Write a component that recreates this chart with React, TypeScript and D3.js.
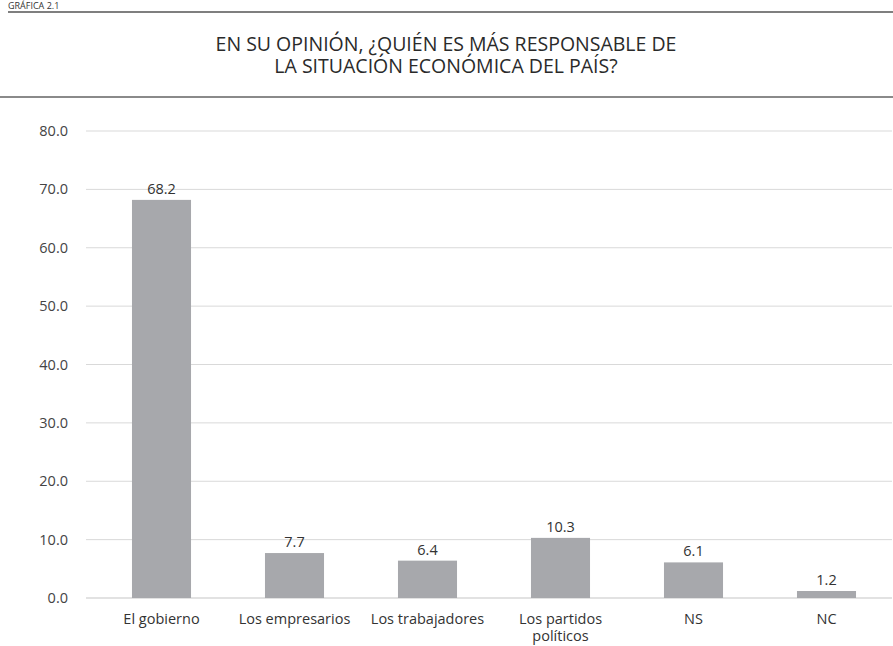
import * as React from 'react';
import * as d3 from 'd3';

// chart data
const categories = ['El gobierno', 'Los empresarios', 'Los trabajadores', 'Los partidos políticos', 'NS', 'NC'];
const values = [68.2, 7.7, 6.4, 10.3, 6.1, 1.2];
const yTicks = [0, 10, 20, 30, 40, 50, 60, 70, 80];
const titleLines = ['EN SU OPINIÓN, ¿QUIÉN ES MÁS RESPONSABLE DE', 'LA SITUACIÓN ECONÓMICA DEL PAÍS?'];
// long labels are wrapped by hand like in the original
const labelLines: { [k: string]: string[] } = {
  'Los partidos políticos': ['Los partidos', 'políticos'],
};

const width = 893;
const height = 646;
const font = '"Open Sans", Lato, sans-serif';
const barColor = '#a7a8ac';

const App = () => {
  // scales, hardcoded ranges to fit the picture
  const x = d3.scaleBand<string>()
    .domain(categories)
    .range([95, 893])
    .paddingInner(0.556)
    .paddingOuter(0.278);
  const y = d3.scaleLinear()
    .domain([0, 80])
    .range([598, 131]);

  const gridLeft = 86;
  const gridRight = 892;
  const fs = 14.5;

  return (
    <svg
      width={width}
      height={height}
      style={{ position: 'absolute', left: 0, top: 0, background: '#fff' }}
      fontFamily={font}
    >
      {/* header */}
      <text x={8} y={9} fontSize={9} fill="#333">GRÁFICA 2.1</text>
      <line x1={8} x2={width} y1={12} y2={12} stroke="#555" strokeWidth={1.5} />

      {/* title */}
      {titleLines.map((t, i) => (
        <text
          key={t}
          x={446}
          y={51 + i * 22}
          textAnchor="middle"
          fontSize={19.5}
          fill="#2a2a2a"
        >
          {t}
        </text>
      ))}
      <line x1={0} x2={width} y1={97} y2={97} stroke="#8a8a8a" strokeWidth={2} />

      {/* gridlines + y tick labels */}
      {yTicks.map((t) => (
        <g key={t}>
          <line
            x1={gridLeft}
            x2={gridRight}
            y1={y(t)}
            y2={y(t)}
            stroke="#d9d9d9"
            strokeWidth={t === 0 ? 1.5 : 1}
          />
          <text
            x={68}
            y={y(t)}
            dy="0.35em"
            textAnchor="end"
            fontSize={fs}
            fill="#444"
          >
            {d3.format('.1f')(t)}
          </text>
        </g>
      ))}

      {/* bars */}
      {categories.map((c, i) => (
        <g key={c}>
          <rect
            x={x(c)}
            y={y(values[i])}
            width={x.bandwidth()}
            height={y(0) - y(values[i])}
            fill={barColor}
          />
          <text
            x={(x(c) as number) + x.bandwidth() / 2}
            y={y(values[i]) - 6}
            textAnchor="middle"
            fontSize={fs}
            fill="#333"
          >
            {d3.format('.1f')(values[i])}
          </text>
        </g>
      ))}

      {/* category labels */}
      {categories.map((c) => {
        const lines = labelLines[c] || [c];
        const cx = (x(c) as number) + x.bandwidth() / 2;
        return lines.map((l, j) => (
          <text
            key={c + l}
            x={cx}
            y={624 + j * 17}
            textAnchor="middle"
            fontSize={fs}
            fill="#333"
          >
            {l}
          </text>
        ));
      })}
    </svg>
  );
};

export default App;
